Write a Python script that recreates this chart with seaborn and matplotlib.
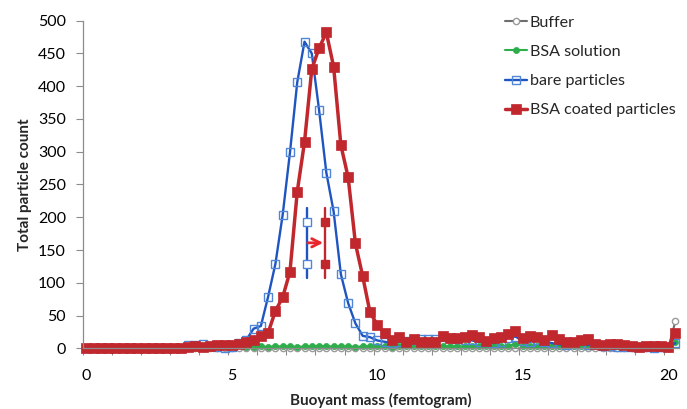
import numpy as np
import pandas as pd
import matplotlib
matplotlib.use("Agg")
import matplotlib.pyplot as plt
import seaborn as sns
from matplotlib.ticker import FixedLocator

# ---------------- data ----------------
mass = np.arange(82) * 0.25  # buoyant mass grid (fg), 0 .. 20.25

buffer_counts = [0] * 81 + [41]

bsa_solution = [np.nan] * 22 + [
    2, 2, 3, 2, 3, 3, 3, 2, 3, 3, 4, 3, 3, 3, 3, 2, 3, 3,
    3, 3, 2, 3, 3, 3, 3, 3, 3, 3, 3, 3, 3, 3, 3, 3, 3, 3, 4, 6,
    4, 3, 3, 3, 3, 3, 3, 3, 3, 3, 3, 3, 3, 3, 3, 3, 3, 3, 3, 3, 4, 10]

bare_particles = [0] * 14 + [
    5, 5, 6, 3, 2, 0, 2, 8,
    13, 30, 34, 79, 129, 204, 299, 406,
    468, 450, 364, 268, 209, 113, 69, 38, 19, 17,
    12, 10, 8, 10, 11, 13, 14, 14, 14, 17,
    15, 14, 12, 12, 10, 9, 8, 10, 16, 18,
    11, 10, 12, 10, 8, 6, 5, 6, 7, 5,
    6, 3, 3, 2, 2, 2, 2, 2, 1, 2,
    2, 8]

bsa_coated = [0] * 14 + [
    2, 3, 2, 4, 5, 5, 5, 6,
    10, 13, 19, 24, 57, 78, 117, 239,
    315, 426, 458, 482, 430, 310, 261, 160, 110, 55,
    36, 23, 13, 17, 10, 14, 9, 9, 9, 19,
    15, 15, 18, 20, 17, 11, 15, 17, 22, 27,
    15, 19, 17, 13, 20, 14, 10, 10, 12, 14,
    7, 5, 7, 6, 5, 3, 2, 3, 3, 3,
    2, 23]

# peak-position indicators
bare_peak_x = 7.58
coated_peak_x = 8.19
indicator_range = [108, 214]
indicator_markers = [129, 193]
arrow_y = 161

series_labels = ["Buffer", "BSA solution", "bare particles", "BSA coated particles"]

df = pd.DataFrame({
    "mass": np.tile(mass, 4),
    "count": np.concatenate([buffer_counts, bsa_solution, bare_particles, bsa_coated]),
    "series": np.repeat(series_labels, len(mass)),
})

# ---------------- style ----------------
sns.set_theme(style="white")
plt.rcParams["font.family"] = ["Lato", "DejaVu Sans"]

RED = "#C0282E"
BLUE = "#1F55C0"
BLUE_M = "#4F86D8"
GREEN = "#2EAE4A"
GRAY = "#6E6E6E"
AXIS = "#8C8C8C"

fig = plt.figure(figsize=(6.87, 4.09), dpi=100)
ax = fig.add_axes([0.1204, 0.1484, 0.8680, 0.8010])

styles = {
    "Buffer": dict(color=GRAY, marker="o", markersize=4.5, markerfacecolor="white",
                   markeredgecolor="#9A9A9A", markeredgewidth=1.0, linewidth=1.5),
    "BSA solution": dict(color=GREEN, marker="o", markersize=4.4, markerfacecolor=GREEN,
                         markeredgecolor=GREEN, markeredgewidth=0.5, linewidth=1.5),
    "bare particles": dict(color=BLUE, marker="s", markersize=6.0, markerfacecolor="none",
                           markeredgecolor=BLUE_M, markeredgewidth=1.0, linewidth=1.7),
    "BSA coated particles": dict(color=RED, marker="s", markersize=6.5, markerfacecolor=RED,
                                 markeredgecolor=RED, markeredgewidth=0.5, linewidth=2.5),
}

for name in series_labels:
    sub = df[df["series"] == name]
    sns.lineplot(data=sub, x="mass", y="count", ax=ax, label=name, clip_on=False,
                 estimator=None, sort=True, **styles[name])

# peak indicators
ax.plot([bare_peak_x, bare_peak_x], indicator_range, color=BLUE, lw=1.7)
ax.plot([bare_peak_x] * 2, indicator_markers, ls="none", marker="s", ms=6.0,
        mfc="white", mec=BLUE_M, mew=1.0)
ax.plot([coated_peak_x, coated_peak_x], indicator_range, color=RED, lw=1.7)
ax.plot([coated_peak_x] * 2, indicator_markers, ls="none", marker="s", ms=6.0,
        mfc=RED, mec=RED)
ax.annotate("", xy=(coated_peak_x - 0.05, arrow_y), xytext=(bare_peak_x + 0.03, arrow_y),
            arrowprops=dict(arrowstyle="->", color="#E8262B", lw=2.0, mutation_scale=15,
                            shrinkA=0, shrinkB=0))

# axes
ax.set_xlim(-0.125, 20.375)
ax.set_ylim(0, 500)
ax.set_xticks([0, 5, 10, 15, 20])
ax.xaxis.set_minor_locator(FixedLocator(np.arange(21) - 0.125))
ax.set_yticks(np.arange(0, 501, 50))
ax.tick_params(axis="x", which="major", length=0, pad=15, labelsize=11.5, colors="black")
ax.tick_params(axis="x", which="minor", length=5, width=0.8, color=AXIS, direction="out",
               bottom=True)
ax.tick_params(axis="y", which="major", length=5, width=0.8, color=AXIS, direction="out",
               left=True, pad=7, labelsize=11.5, labelcolor="black")

for s in ["top", "right"]:
    ax.spines[s].set_visible(False)
for s in ["left", "bottom"]:
    ax.spines[s].set_color(AXIS)
    ax.spines[s].set_linewidth(0.9)

ax.set_xlabel("Buoyant mass (femtogram)", fontsize=11, fontweight="bold", labelpad=7)
ax.set_ylabel("Total particle count", fontsize=11, fontweight="bold", labelpad=4)

leg = ax.legend(loc="upper left", bbox_to_anchor=(0.697, 1.035), frameon=False,
                fontsize=11.6, handlelength=1.4, handletextpad=0.15, labelspacing=0.92,
                borderaxespad=0)

fig.savefig("out.png", dpi=100)
